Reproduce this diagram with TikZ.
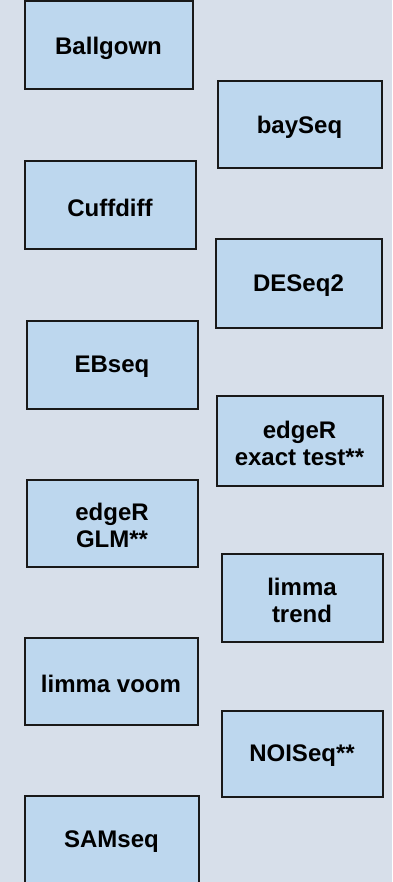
\documentclass[tikz,border=0pt]{standalone}
\usepackage{fontspec}
\setmainfont{Liberation Sans}
\definecolor{pagebg}{HTML}{D7DFEA}
\definecolor{boxfill}{HTML}{BDD7EE}
\begin{document}
\begin{tikzpicture}[x=1pt,y=-1pt,
  tool/.style={draw=black!90, line width=2pt, fill=boxfill, rectangle, inner sep=0pt},
  lbl/.style={align=center, inner sep=0pt, yshift=-2.5pt,
    font=\fontsize{24}{27}\selectfont\bfseries},
]
% page background
\fill[pagebg] (0,0) rectangle (392,882);
\useasboundingbox (0,0) rectangle (392,882);
% left column
\node[tool, minimum width=168pt, minimum height=88pt,
  label={[lbl]center:Ballgown}] (ballgown) at (108.5,45.5) {};
\node[tool, minimum width=171pt, minimum height=88pt,
  label={[lbl]center:Cuffdiff}] (cuffdiff) at (110,205.5) {};
\node[tool, minimum width=171pt, minimum height=88pt,
  label={[lbl]center:EBseq}] (ebseq) at (112,364.5) {};
\node[tool, minimum width=171pt, minimum height=87pt,
  label={[lbl]center:{edgeR\\GLM**}}] (edgerglm) at (112,523) {};
\node[tool, minimum width=173pt, minimum height=87pt,
  label={[lbl]center:limma voom}] (voom) at (111,681) {};
\node[tool, minimum width=174pt, minimum height=88pt,
  label={[lbl]center:SAMseq}] (samseq) at (111.5,839.5) {};
% right column
\node[tool, minimum width=164pt, minimum height=87pt,
  label={[lbl]center:baySeq}] (bayseq) at (299.5,125) {};
\node[tool, minimum width=166pt, minimum height=88pt,
  label={[lbl]center:DESeq2}] (deseq) at (298.5,283.5) {};
\node[tool, minimum width=166pt, minimum height=90pt,
  label={[lbl]center:{edgeR\\exact test**}}] (edgerexact) at (299.5,440.5) {};
\node[tool, minimum width=161pt, minimum height=88pt,
  label={[lbl]center:{limma\\trend}}] (trend) at (302,597.5) {};
\node[tool, minimum width=161pt, minimum height=86pt,
  label={[lbl]center:NOISeq**}] (noiseq) at (302,753.5) {};
\end{tikzpicture}
\end{document}
